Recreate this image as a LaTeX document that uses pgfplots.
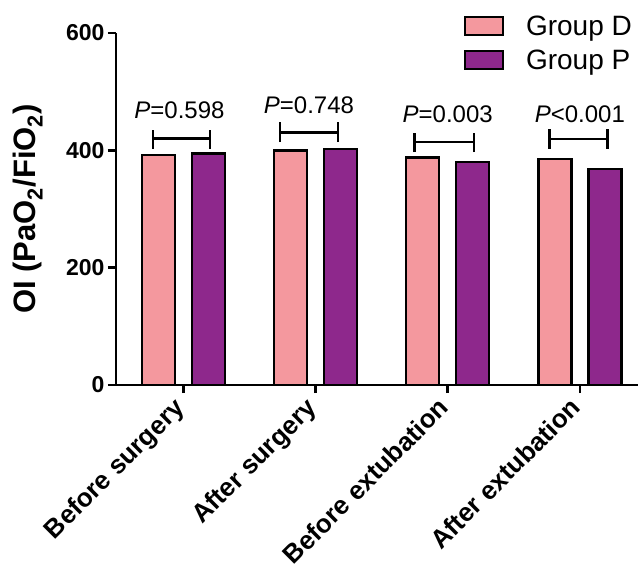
\documentclass[border=0pt]{standalone}
\usepackage{pgfplots}
\pgfplotsset{compat=1.18}
\usepackage{fontspec}
\setmainfont{Liberation Sans}
\definecolor{pinkD}{RGB}{244,152,158}
\definecolor{purpP}{RGB}{142,40,140}
\begin{document}
\begin{tikzpicture}
\begin{axis}[
  scale only axis, width=522pt, height=352pt,
  ymin=0, ymax=600, ytick={0,200,400,600},
  xmin=-0.51, xmax=3.44,
  xtick={0,1,2,3},
  xticklabels={Before surgery, After surgery, Before extubation, After extubation},
  axis lines=left,
  axis line style={-, line width=2.5pt, black},
  tick style={line width=2.5pt, black},
  major tick length=8pt,
  tick align=outside,
  /pgf/number format/assume math mode=true,
  yticklabel style={font=\fontsize{23}{26}\selectfont\bfseries},
  xticklabel style={font=\fontsize{26}{30}\selectfont\bfseries, xshift=-11pt, rotate=45, anchor=north east, inner sep=2pt},
  ylabel={OI (PaO\textsubscript{2}/FiO\textsubscript{2})},
  ylabel style={font=\fontsize{31}{34}\selectfont\bfseries, at={(rel axis cs:-0.1686,0.5)}, anchor=center},
  ybar, bar width=33pt,
  legend style={draw=none, fill=none, at={(rel axis cs:0.992,1.055)}, anchor=north east,
    inner sep=0pt, outer sep=0pt,
    font=\fontsize{28}{32}\selectfont, row sep=9pt},
  legend cell align=left,
  clip=false,
]
\addplot[fill=pinkD, draw=black, line width=2.5pt, bar shift=-25pt,
  legend image code/.code={\draw[fill=pinkD, draw=black, line width=2.5pt] (0pt,-9pt) rectangle (38pt,9pt); \path (58pt,0pt);}]
  coordinates {(0,392) (1,400) (2,388) (3,385)};
\addlegendentry{Group D}
\addplot[fill=purpP, draw=black, line width=2.5pt, bar shift=25pt,
  legend image code/.code={\draw[fill=purpP, draw=black, line width=2.5pt] (0pt,-9pt) rectangle (38pt,9pt); \path (58pt,0pt);}]
  coordinates {(0,395) (1,402) (2,380) (3,368)};
\addlegendentry{Group P}
% significance brackets
\draw[line width=2.5pt] (axis cs:-0.23,403) -- (axis cs:-0.23,434) (axis cs:-0.23,420) -- (axis cs:0.20,420) (axis cs:0.20,403) -- (axis cs:0.20,434);
\draw[line width=2.5pt] (axis cs:0.73,414) -- (axis cs:0.73,448) (axis cs:0.73,430) -- (axis cs:1.17,430) (axis cs:1.17,414) -- (axis cs:1.17,448);
\draw[line width=2.5pt] (axis cs:1.75,397) -- (axis cs:1.75,430) (axis cs:1.75,414) -- (axis cs:2.20,414) (axis cs:2.20,397) -- (axis cs:2.20,430);
\draw[line width=2.5pt] (axis cs:2.77,403) -- (axis cs:2.77,437) (axis cs:2.77,419) -- (axis cs:3.21,419) (axis cs:3.21,403) -- (axis cs:3.21,437);
\node[anchor=base, font=\fontsize{24}{26}\selectfont] at (axis cs:-0.03,454) {\textit{P}=0.598};
\node[anchor=base, font=\fontsize{24}{26}\selectfont] at (axis cs:0.95,463) {\textit{P}=0.748};
\node[anchor=base, font=\fontsize{24}{26}\selectfont] at (axis cs:2,448) {\textit{P}=0.003};
\node[anchor=base, font=\fontsize{24}{26}\selectfont] at (axis cs:3,448) {\textit{P}<0.001};
\coordinate (BL) at (rel axis cs:-0.2222,-0.5313);
\coordinate (TR) at (rel axis cs:1,1.0938);
\end{axis}
\pgfresetboundingbox
\path[use as bounding box] (BL) rectangle (TR);
\end{tikzpicture}
\end{document}
